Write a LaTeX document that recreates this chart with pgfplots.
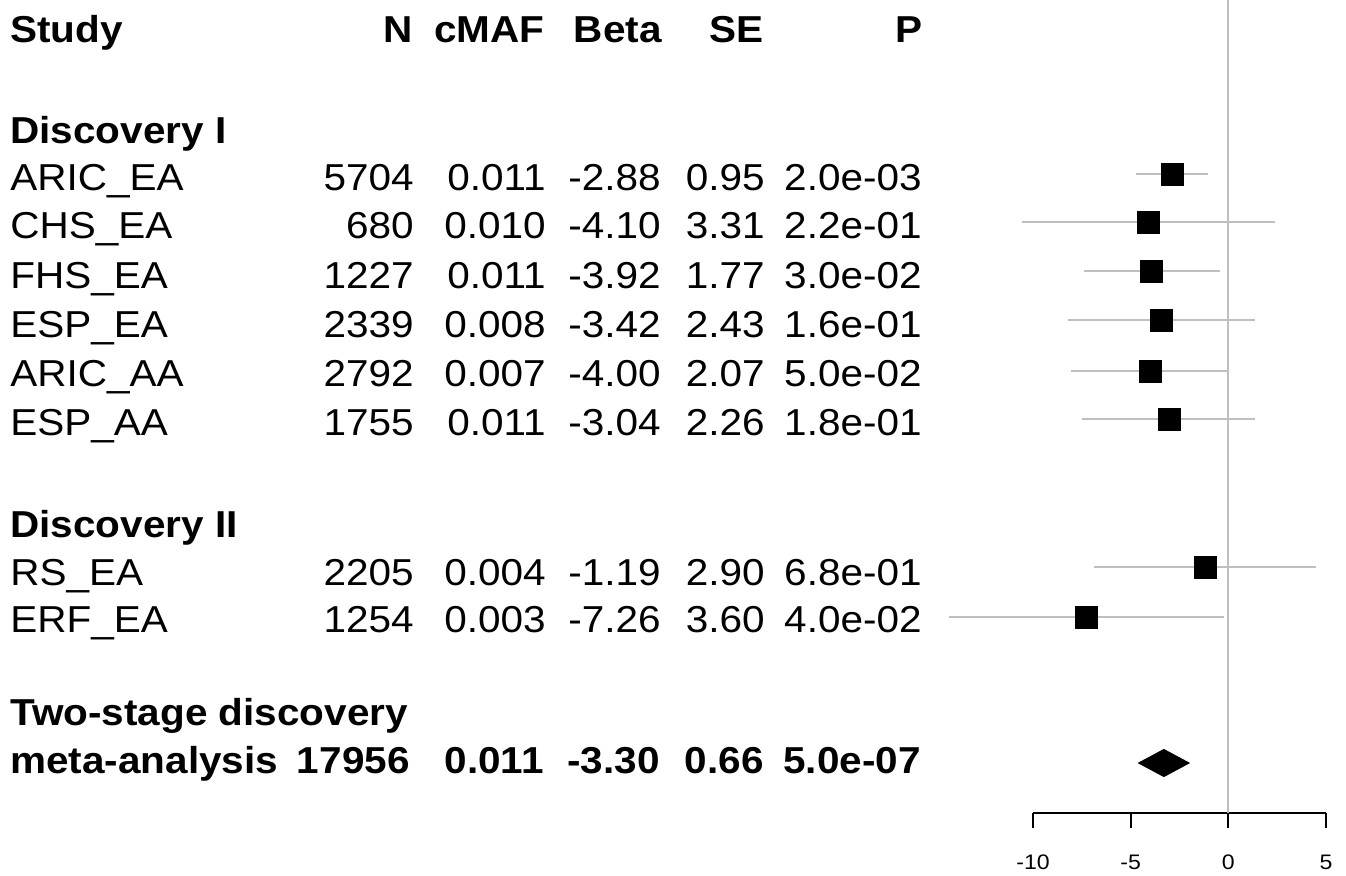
\documentclass[border=0pt]{standalone}
\usepackage{fontspec}
\setmainfont{Liberation Sans}
\usepackage{graphicx}
\usepackage{pgfplots}
\usepackage{pgfplotstable}
\pgfplotsset{compat=1.18}

\pgfplotstableread{
y beta err
-174 -2.88 1.862
-222 -4.10 6.488
-271 -3.92 3.469
-320 -3.42 4.763
-371 -4.00 4.057
-419 -3.04 4.430
-567 -1.19 5.684
-617 -7.26 7.056
}\studies

\newcommand{\T}[1]{\scalebox{1.08}[1]{#1}}
\newcommand{\B}[1]{\scalebox{1.08}[1]{\bfseries #1}}

\begin{document}
\begin{tikzpicture}
\path[use as bounding box] (0,0) rectangle (673pt,-437.5pt);
\begin{scope}[x=0.5pt,y=-0.5pt,every node/.style={inner sep=0pt,font=\fontsize{18.75}{22}\selectfont}]
% header
\node[anchor=base west] at (10,42) {\B{Study}};
\node[anchor=base east] at (413,42) {\B{N}};
\node[anchor=base east] at (545,42) {\B{cMAF}};
\node[anchor=base east] at (662,42) {\B{Beta}};
\node[anchor=base east] at (764,42) {\B{SE}};
\node[anchor=base east] at (923,42) {\B{P}};
% Discovery I
\node[anchor=base west] at (10,143) {\B{Discovery I}};
\foreach \yy/\st/\n/\maf/\be/\se/\p in {
 190/ARIC\_EA/5704/0.011/-2.88/0.95/2.0e-03,
 238/CHS\_EA/680/0.010/-4.10/3.31/2.2e-01,
 288/FHS\_EA/1227/0.011/-3.92/1.77/3.0e-02,
 337/ESP\_EA/2339/0.008/-3.42/2.43/1.6e-01,
 386/ARIC\_AA/2792/0.007/-4.00/2.07/5.0e-02,
 435/ESP\_AA/1755/0.011/-3.04/2.26/1.8e-01,
 585/RS\_EA/2205/0.004/-1.19/2.90/6.8e-01,
 632/ERF\_EA/1254/0.003/-7.26/3.60/4.0e-02}{
\node[anchor=base west] at (10,\yy) {\T{\st}};
\node[anchor=base east] at (414,\yy) {\T{\n}};
\node[anchor=base east] at (546,\yy) {\T{\maf}};
\node[anchor=base east] at (661,\yy) {\T{\be}};
\node[anchor=base east] at (765,\yy) {\T{\se}};
\node[anchor=base east] at (922,\yy) {\T{\p}};
}
\node[anchor=base west] at (10,537) {\B{Discovery II}};
\node[anchor=base west] at (10,725) {\B{Two-stage discovery}};
\node[anchor=base west] at (10,773) {\B{meta-analysis}};
\node[anchor=base east] at (410,773) {\B{17956}};
\node[anchor=base east] at (544,773) {\B{0.011}};
\node[anchor=base east] at (660,773) {\B{-3.30}};
\node[anchor=base east] at (764,773) {\B{0.66}};
\node[anchor=base east] at (921,773) {\B{5.0e-07}};
\end{scope}

\begin{axis}[
  at={(516.5pt,-406.5pt)}, anchor=south west,
  scale only axis, width=146.5pt, height=406.5pt,
  xmin=-10, xmax=5, ymin=-813, ymax=0,
  clip=false,
  axis x line=bottom, axis y line=none,
  x axis line style={-, line width=1pt, black},
  xtick={-10,-5,0,5},
  xticklabels={\scalebox{1.1}[1]{-10},\scalebox{1.1}[1]{-5},\scalebox{1.1}[1]{0},\scalebox{1.1}[1]{5}},
  tick align=outside, major tick length=7.5pt,
  xtick style={line width=1pt, black},
  xticklabel style={font=\fontsize{10.5}{12}\selectfont, yshift=-10pt},
]
\addplot[gray!50, line width=1pt] coordinates {(0,0) (0,-813)};
\addplot[only marks, mark=square*, mark size=5.5pt, black,
  error bars/.cd, x dir=both, x explicit, error mark=none,
  error bar style={gray!50, line width=1pt}]
  table[x=beta, y=y, x error=err] {\studies};
\addplot[fill=black, draw=black, line width=0.5pt] coordinates {(-4.59,-763) (-3.30,-749.5) (-2.01,-763) (-3.30,-776.5)} -- cycle;
\end{axis}
\end{tikzpicture}
\end{document}
